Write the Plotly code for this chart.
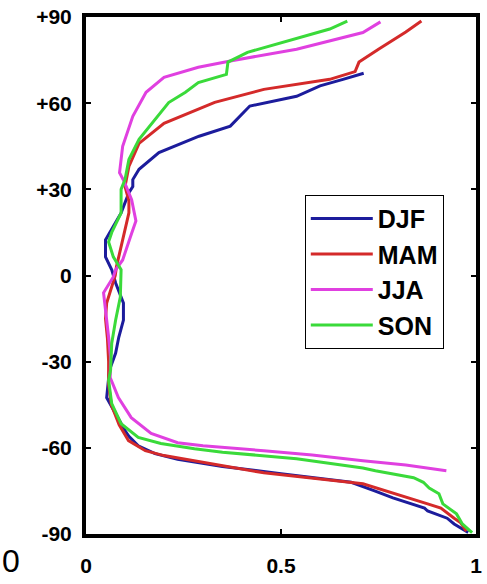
import plotly.graph_objects as go

# Latitude (deg) and value for each season
djf_lat = [-89.5, -86.5, -84.5, -82, -81, -77.4, -75, -72, -69, -66.5, -64, -62, -59.3, -56, -54, -48, -42.5,
           -33, -27, -21.5, -15.5, -9.6, -2.6, 2, 6.5, 12.4, 16, 21.8, 28.8, 31, 33.4, 37, 42.8, 48.5, 52, 56,
           59, 62.4, 66, 68.3, 70.4]
djf_val = [0.98, 0.944, 0.926, 0.876, 0.868, 0.787, 0.74, 0.68, 0.5, 0.35, 0.235, 0.177, 0.134, 0.11, 0.1, 0.076, 0.053,
           0.06, 0.076, 0.084, 0.096, 0.096, 0.076, 0.066, 0.05, 0.05, 0.066, 0.09, 0.11, 0.12, 0.12, 0.136, 0.187, 0.29, 0.37, 0.40,
           0.42, 0.54, 0.6, 0.659, 0.712]

mam_lat = [-89, -86, -84.5, -81, -79.5, -77.4, -76, -72.5, -68.7, -64.5, -62.7, -61, -57.5, -52, -45, -38, -30,
           -22, -15, -9.6, -4, 0, 3, 9, 13.5, 21.8, 26, 31, 38, 46, 53, 60.3, 64.8, 68.3, 71, 74.3, 78.8, 84.8, 88.6]
mam_val = [0.975, 0.96, 0.944, 0.91, 0.876, 0.825, 0.79, 0.71, 0.456, 0.27, 0.2, 0.152, 0.109, 0.085, 0.065, 0.058, 0.058,
           0.055, 0.05, 0.053, 0.066, 0.075, 0.078, 0.088, 0.096, 0.11, 0.11, 0.10, 0.11, 0.136, 0.20, 0.33, 0.456, 0.625, 0.69,
           0.70, 0.75, 0.82, 0.86]

jja_lat = [-68, -66, -64.5, -62.5, -61, -59.3, -58.2, -55, -49.5, -42.5, -35.5, -28.5, -21.5, -13, -6, -0.5, 2, 5.4,
           8, 13.5, 19, 26.4, 32.7, 35.8, 45, 55.4, 63.8, 69, 72.5, 74.7, 78.8, 84.6, 88.3]
jja_val = [0.924, 0.82, 0.71, 0.58, 0.456, 0.30, 0.235, 0.167, 0.116, 0.083, 0.062, 0.063, 0.058, 0.05, 0.045, 0.07, 0.076,
           0.094, 0.1, 0.114, 0.128, 0.117, 0.098, 0.086, 0.094, 0.12, 0.154, 0.20, 0.288, 0.37, 0.54, 0.71, 0.755]

son_lat = [-89.5, -86.5, -83, -79.5, -76, -74, -72, -70.4, -68, -67, -63.8, -61.5, -60.3, -58.5, -56.4, -51.6, -44.6,
           -36.5, -33, -23.6, -15.5, -7.5, 2, 6.5, 11.7, 15, 21.8, 30, 33.4, 40.4, 47.4, 53.3, 60.2, 63.8, 67.2, 70,
           74.3, 77.7, 81, 85.8, 88.6]
son_val = [0.99, 0.965, 0.95, 0.915, 0.905, 0.88, 0.865, 0.84, 0.742, 0.71, 0.54, 0.35, 0.278, 0.192, 0.134, 0.09, 0.066,
           0.058, 0.063, 0.066, 0.076, 0.088, 0.09, 0.07, 0.058, 0.066, 0.09, 0.09, 0.10, 0.11, 0.136, 0.17, 0.212, 0.255,
           0.288, 0.36, 0.364, 0.414, 0.50, 0.625, 0.67]

series = [("DJF", djf_lat, djf_val, "#1c1c9c"),
          ("MAM", mam_lat, mam_val, "#d42a2a"),
          ("JJA", jja_lat, jja_val, "#e040e0"),
          ("SON", son_lat, son_val, "#3ada3a")]

y_ticks = [-90, -60, -30, 0, 30, 60, 90]
y_tick_labels = ["-90", "-60", "-30", "0", "+30", "+60", "+90"]
x_ticks = [0, 0.5, 1]
x_tick_labels = ["0", "0.5", "1"]

fig = go.Figure()
for name, lat, val, col in series:
    fig.add_trace(go.Scatter(x=val, y=lat, mode="lines", name=name,
                             line=dict(color=col, width=3)))

font_family = "Liberation Sans, Arial, sans-serif"
fig.update_layout(
    width=487, height=584,
    margin=dict(l=86, r=5, t=17, b=50),
    paper_bgcolor="white", plot_bgcolor="white",
    font=dict(family=font_family, color="black"),
    showlegend=True,
    legend=dict(x=0.561, y=0.656, xanchor="left", yanchor="top",
                bgcolor="white", bordercolor="black", borderwidth=1,
                itemwidth=62,
                font=dict(size=25, weight="bold", family=font_family)),
    xaxis=dict(range=[0, 1.0], tickvals=x_ticks, ticktext=x_tick_labels,
               showgrid=False, zeroline=False, showline=True, linewidth=4,
               linecolor="black", mirror="ticks", ticks="inside", ticklen=5,
               tickwidth=2, tickcolor="black", ticklabelstandoff=10,
               ticklabeloverflow="allow",
               tickfont=dict(size=21, weight="bold", family=font_family)),
    yaxis=dict(range=[-90, 90], tickvals=y_ticks, ticktext=y_tick_labels,
               showgrid=False, zeroline=False, showline=True, linewidth=4,
               linecolor="black", mirror="ticks", ticks="inside", ticklen=5,
               tickwidth=2, tickcolor="black", ticklabelstandoff=6,
               ticklabeloverflow="allow",
               tickfont=dict(size=21, weight="bold", family=font_family)),
)

fig.add_annotation(text="0", xref="paper", yref="paper", x=-0.217, y=-0.052,
                   showarrow=False, font=dict(size=32, family=font_family, color="black"),
                   xanchor="left", yanchor="middle", borderpad=0)

fig.write_html("out.html", config={"displayModeBar": False},
               post_script="document.body.style.margin='0';document.body.style.overflow='hidden';")
